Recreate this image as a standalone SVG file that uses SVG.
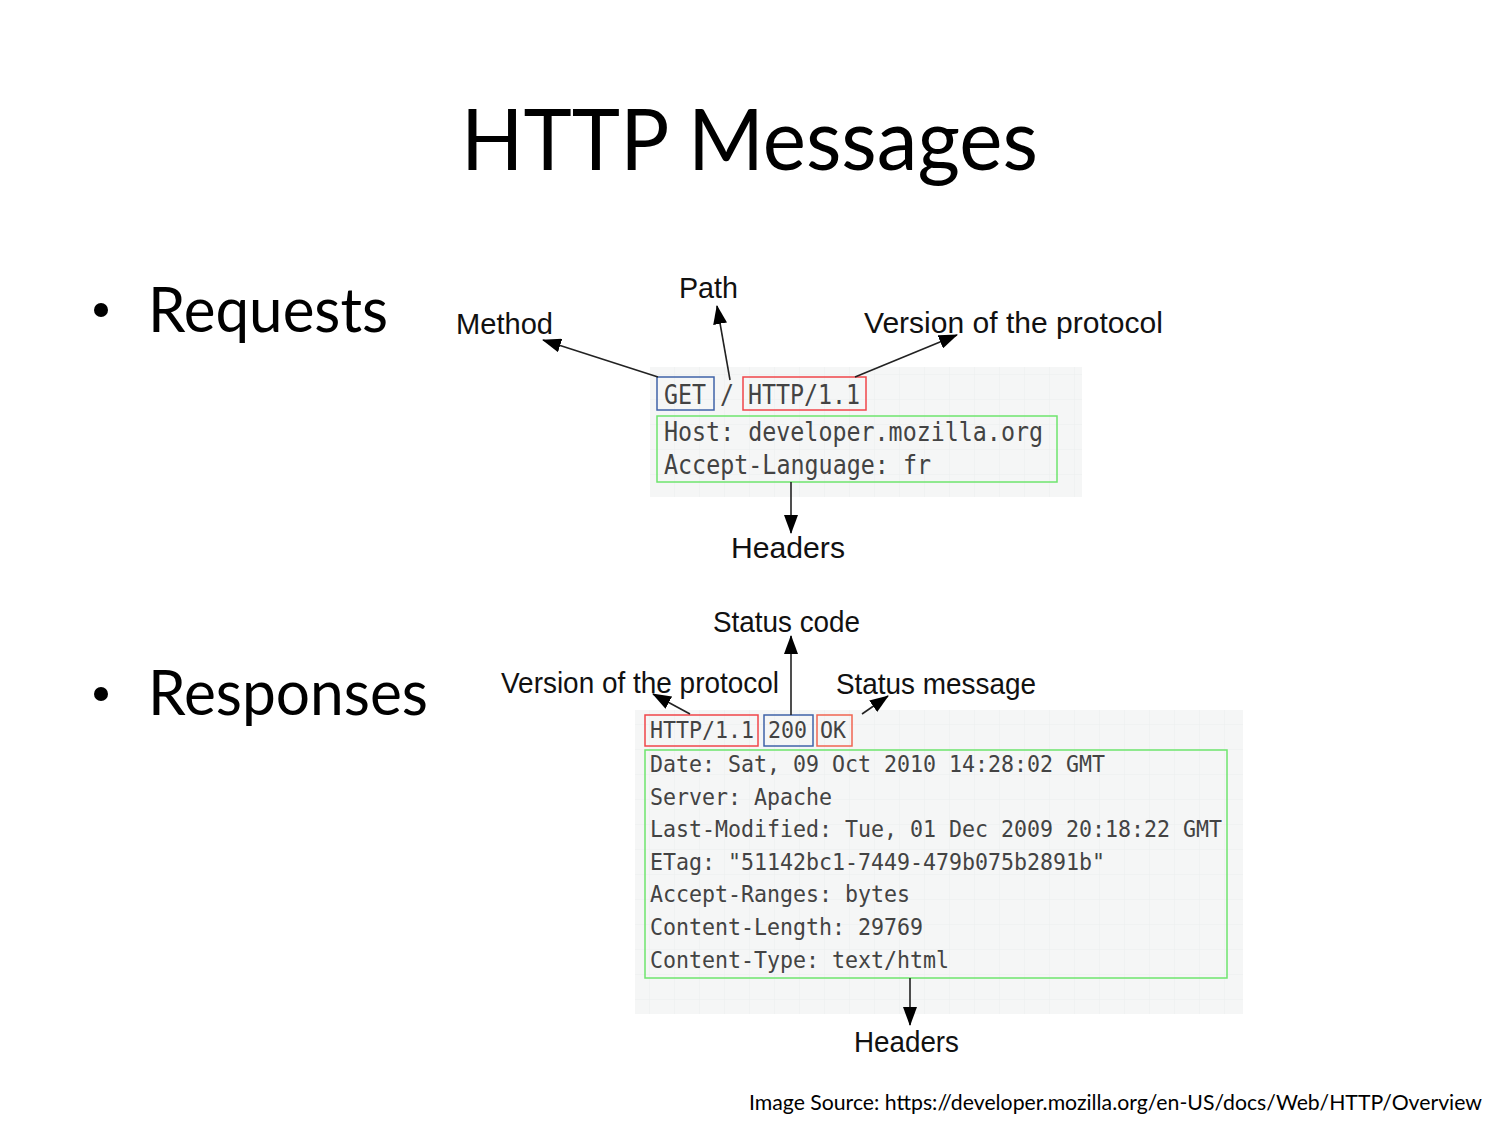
<svg xmlns="http://www.w3.org/2000/svg" width="1500" height="1125" viewBox="0 0 1500 1125">
  <style>
    .title { font-family: Lato, "Open Sans", sans-serif; font-size: 86px; fill: #000; }
    .bullet { font-family: Lato, "Open Sans", sans-serif; font-size: 62px; fill: #000; }
    .label { font-family: "Liberation Sans", Arial, sans-serif; font-size: 29px; fill: #111; }
    .code { font-family: "DejaVu Sans Mono", "Liberation Mono", monospace; fill: #434343; }
    .req { font-size: 26px; }
    .res { font-size: 22.5px; }
    .panel { fill: url(#grid); }
    .box { fill: none; stroke-width: 1.5; }
    .blue { stroke: #3f63a8; }
    .red { stroke: #f0464a; }
    .orange { stroke: #f06552; }
    .green { stroke: #6ee56e; }
    .conn { stroke: #222; stroke-width: 1.6; fill: none; marker-end: url(#head); }
    .source { font-family: Lato, "Open Sans", sans-serif; font-size: 21px; fill: #000; }
  </style>
  <defs>
    <marker id="head" markerUnits="userSpaceOnUse" markerWidth="19" markerHeight="14" refX="18" refY="7" orient="auto">
      <path d="M0,0 L19,7 L0,14 Z" fill="#000"/>
    </marker>
    <pattern id="grid" width="25" height="25" patternUnits="userSpaceOnUse">
      <rect width="25" height="25" fill="#f5f6f6"/>
      <path d="M25,0 V25 M0,25 H25" stroke="#eceeee" stroke-width="1"/>
    </pattern>
  </defs>

  <rect width="1500" height="1125" fill="#fff"/>

  <text class="title" x="461" y="170" textLength="577" lengthAdjust="spacingAndGlyphs">HTTP Messages</text>

  <g id="bullet-requests">
    <circle cx="101" cy="310" r="7" fill="#000"/>
    <text class="bullet" x="148" y="332" textLength="240" lengthAdjust="spacingAndGlyphs">Requests</text>
  </g>
  <g id="bullet-responses">
    <circle cx="101" cy="694" r="7" fill="#000"/>
    <text class="bullet" x="148" y="715" textLength="280" lengthAdjust="spacingAndGlyphs">Responses</text>
  </g>

  <!-- request message: tall monospace squeezed to 14px per character -->
  <g id="request">
    <rect class="panel" x="650" y="367" width="432" height="130"/>
    <g id="req-method">
      <rect class="box blue" x="657" y="377" width="57" height="33"/>
      <text class="code req" x="664" y="404" textLength="42" lengthAdjust="spacingAndGlyphs">GET</text>
    </g>
    <text class="code req" x="720" y="404" textLength="14" lengthAdjust="spacingAndGlyphs">/</text>
    <g id="req-version">
      <rect class="box red" x="743" y="377" width="123" height="33"/>
      <text class="code req" x="748" y="404" textLength="112" lengthAdjust="spacingAndGlyphs">HTTP/1.1</text>
    </g>
    <g id="req-headers">
      <rect class="box green" x="657" y="416" width="400" height="66"/>
      <text class="code req" x="664" y="441" textLength="379" lengthAdjust="spacingAndGlyphs">Host: developer.mozilla.org</text>
      <text class="code req" x="664" y="474" textLength="267" lengthAdjust="spacingAndGlyphs">Accept-Language: fr</text>
    </g>
  </g>

  <g id="req-labels">
    <text id="lbl-method" class="label" x="456" y="334" textLength="97" lengthAdjust="spacingAndGlyphs">Method</text>
    <text id="lbl-path" class="label" x="679" y="298" textLength="59" lengthAdjust="spacingAndGlyphs">Path</text>
    <text id="lbl-req-version" class="label" x="864" y="333" textLength="299" lengthAdjust="spacingAndGlyphs">Version of the protocol</text>
    <text id="lbl-req-headers" class="label" x="731" y="558" textLength="114" lengthAdjust="spacingAndGlyphs">Headers</text>
  </g>

  <!-- response message: monospace at 13px per character -->
  <g id="response">
    <rect class="panel" x="635" y="710" width="608" height="304"/>
    <g id="res-version">
      <rect class="box red" x="645" y="715" width="113" height="31"/>
      <text class="code res" x="650" y="738" textLength="104" lengthAdjust="spacingAndGlyphs">HTTP/1.1</text>
    </g>
    <g id="res-status-code">
      <rect class="box blue" x="764" y="715" width="49" height="31"/>
      <text class="code res" x="768" y="738" textLength="39" lengthAdjust="spacingAndGlyphs">200</text>
    </g>
    <g id="res-status-msg">
      <rect class="box orange" x="817" y="715" width="35" height="31"/>
      <text class="code res" x="820" y="738" textLength="26" lengthAdjust="spacingAndGlyphs">OK</text>
    </g>
    <g id="res-headers">
      <rect class="box green" x="645" y="750" width="582" height="228"/>
      <text class="code res" x="650" y="772" textLength="455" lengthAdjust="spacingAndGlyphs">Date: Sat, 09 Oct 2010 14:28:02 GMT</text>
      <text class="code res" x="650" y="805" textLength="182" lengthAdjust="spacingAndGlyphs">Server: Apache</text>
      <text class="code res" x="650" y="837" textLength="572" lengthAdjust="spacingAndGlyphs">Last-Modified: Tue, 01 Dec 2009 20:18:22 GMT</text>
      <text class="code res" x="650" y="870" textLength="455" lengthAdjust="spacingAndGlyphs">ETag: "51142bc1-7449-479b075b2891b"</text>
      <text class="code res" x="650" y="902" textLength="260" lengthAdjust="spacingAndGlyphs">Accept-Ranges: bytes</text>
      <text class="code res" x="650" y="935" textLength="273" lengthAdjust="spacingAndGlyphs">Content-Length: 29769</text>
      <text class="code res" x="650" y="968" textLength="299" lengthAdjust="spacingAndGlyphs">Content-Type: text/html</text>
    </g>
  </g>

  <g id="res-labels">
    <text id="lbl-status-code" class="label" x="713" y="632" textLength="147" lengthAdjust="spacingAndGlyphs">Status code</text>
    <text id="lbl-res-version" class="label" x="501" y="693" textLength="278" lengthAdjust="spacingAndGlyphs">Version of the protocol</text>
    <text id="lbl-status-msg" class="label" x="836" y="694" textLength="200" lengthAdjust="spacingAndGlyphs">Status message</text>
    <text id="lbl-res-headers" class="label" x="854" y="1052" textLength="105" lengthAdjust="spacingAndGlyphs">Headers</text>
  </g>

  <g id="connectors">
    <line class="conn" x1="658" y1="377" x2="543" y2="340"/>
    <line class="conn" x1="730" y1="380" x2="717" y2="306"/>
    <line class="conn" x1="855" y1="377" x2="957" y2="335"/>
    <line class="conn" x1="791" y1="482" x2="791" y2="533"/>
    <line class="conn" x1="791" y1="715" x2="791" y2="636"/>
    <line class="conn" x1="690" y1="714" x2="653" y2="694"/>
    <line class="conn" x1="862" y1="714" x2="888" y2="696"/>
    <line class="conn" x1="910" y1="978" x2="910" y2="1025"/>
  </g>

  <text class="source" x="749" y="1110" textLength="733" lengthAdjust="spacingAndGlyphs">Image Source: https://developer.mozilla.org/en-US/docs/Web/HTTP/Overview</text>
</svg>
